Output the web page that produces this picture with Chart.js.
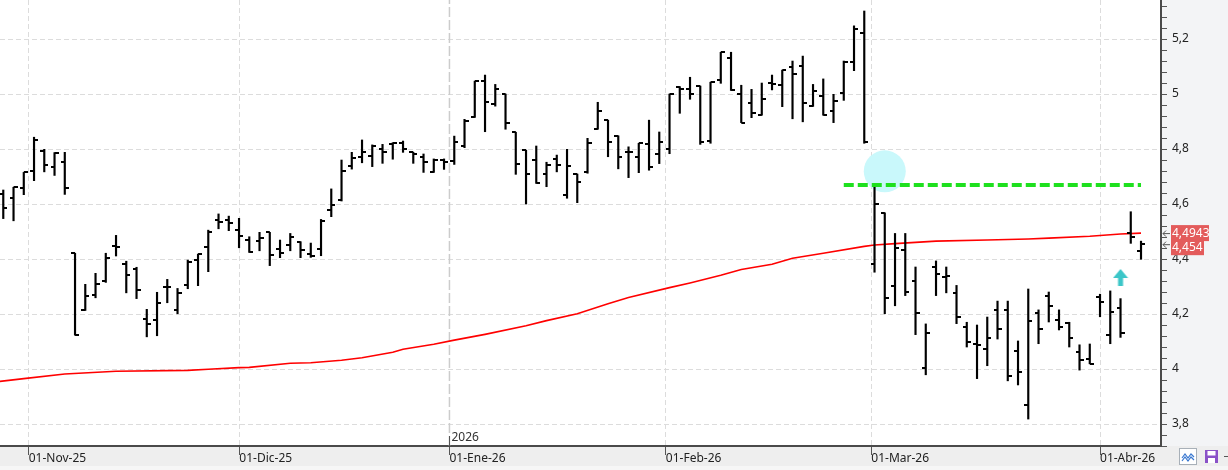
<!DOCTYPE html>
<html>
<head>
<meta charset="utf-8">
<script src="https://cdn.jsdelivr.net/npm/chart.js@4.4.1/dist/chart.umd.min.js"></script>
<style>
  html, body { margin: 0; padding: 0; background: #fff; }
  #wrap { position: relative; width: 1228px; height: 470px; }
</style>
</head>
<body>
<div id="wrap"><canvas id="chart" width="1228" height="470"></canvas></div>
<script>
// Daily bars, index 0 = first session on screen
const opens = [
  4.635, 4.621, 4.657, 4.719, 4.794, 4.733, 4.752, 4.421, 4.213, 4.268,
  4.321, 4.446, 4.381, 4.364, 4.182, 4.178, 4.298, 4.213, 4.304, 4.395,
  4.443, 4.541, 4.541, 4.505, 4.469, 4.465, 4.497, 4.436, 4.451, 4.463,
  4.418, 4.436, 4.578, 4.615, 4.738, 4.770, 4.775, 4.799, 4.818, 4.823,
  4.788, 4.772, 4.717, 4.760, 4.756, 4.812, 4.917, 5.047, 4.964, 5.000,
  4.861, 4.796, 4.760, 4.708, 4.763, 4.633, 4.709, 4.717, 4.872, 4.905,
  4.848, 4.789, 4.772, 4.817, 4.781, 4.799, 5.024, 5.017, 5.029, 4.830,
  5.051, 5.130, 4.999, 4.966, 4.923, 5.039, 5.032, 5.097, 5.101, 4.955,
  4.992, 4.937, 5.003, 5.115, 5.221, 4.382, 4.568, 4.302, 4.433, 4.319,
  4.003, 4.370, 4.335, 4.275, 4.152, 4.090, 4.073, 4.213, 4.213, 4.065,
  3.868, 4.203, 4.265, 4.177, 4.168, 4.062, 4.036, 4.261, 4.124, 4.221,
  4.493, 4.429
];
const highs = [
  4.651, 4.661, 4.715, 4.843, 4.799, 4.787, 4.788, 4.421, 4.308, 4.348,
  4.421, 4.486, 4.392, 4.370, 4.217, 4.279, 4.326, 4.293, 4.396, 4.418,
  4.505, 4.564, 4.556, 4.548, 4.481, 4.497, 4.497, 4.469, 4.493, 4.463,
  4.458, 4.544, 4.655, 4.760, 4.788, 4.833, 4.815, 4.817, 4.823, 4.829,
  4.788, 4.782, 4.764, 4.764, 4.847, 4.908, 5.047, 5.069, 5.035, 5.000,
  4.861, 4.796, 4.811, 4.752, 4.778, 4.799, 4.709, 4.839, 4.970, 4.905,
  4.848, 4.808, 4.821, 4.905, 4.862, 5.000, 5.027, 5.061, 5.029, 5.043,
  5.152, 5.152, 5.032, 5.017, 5.040, 5.069, 5.087, 5.120, 5.138, 5.035,
  5.055, 4.999, 5.120, 5.248, 5.302, 4.663, 4.568, 4.493, 4.493, 4.371,
  4.164, 4.393, 4.371, 4.304, 4.170, 4.160, 4.189, 4.247, 4.247, 4.102,
  4.291, 4.215, 4.280, 4.215, 4.170, 4.088, 4.091, 4.272, 4.284, 4.256,
  4.572, 4.465
];
const lows = [
  4.547, 4.539, 4.634, 4.685, 4.717, 4.704, 4.635, 4.123, 4.213, 4.259,
  4.315, 4.411, 4.277, 4.256, 4.117, 4.121, 4.241, 4.201, 4.292, 4.303,
  4.354, 4.510, 4.503, 4.441, 4.424, 4.430, 4.376, 4.405, 4.430, 4.405,
  4.406, 4.412, 4.554, 4.611, 4.727, 4.750, 4.736, 4.748, 4.763, 4.788,
  4.748, 4.715, 4.715, 4.726, 4.744, 4.805, 4.915, 4.863, 4.956, 4.872,
  4.708, 4.600, 4.675, 4.663, 4.717, 4.621, 4.605, 4.712, 4.872, 4.772,
  4.728, 4.696, 4.714, 4.723, 4.747, 4.783, 4.930, 4.981, 4.817, 4.821,
  5.039, 5.013, 4.896, 4.914, 4.923, 5.015, 4.954, 4.910, 4.899, 4.955,
  4.923, 4.896, 4.977, 5.085, 4.821, 4.352, 4.201, 4.230, 4.267, 4.125,
  3.979, 4.267, 4.277, 4.165, 4.080, 3.965, 4.012, 4.109, 3.957, 3.942,
  3.818, 4.092, 4.171, 4.142, 4.080, 3.996, 4.019, 4.190, 4.092, 4.115,
  4.457, 4.399
];
const closes = [
  4.584, 4.661, 4.715, 4.832, 4.742, 4.784, 4.657, 4.123, 4.265, 4.308,
  4.403, 4.443, 4.341, 4.287, 4.164, 4.239, 4.298, 4.275, 4.389, 4.418,
  4.497, 4.533, 4.530, 4.484, 4.427, 4.475, 4.415, 4.421, 4.481, 4.433,
  4.411, 4.538, 4.596, 4.721, 4.766, 4.788, 4.812, 4.788, 4.823, 4.799,
  4.782, 4.752, 4.760, 4.752, 4.824, 4.902, 5.047, 4.972, 5.017, 4.893,
  4.744, 4.708, 4.675, 4.742, 4.742, 4.738, 4.679, 4.821, 4.939, 4.824,
  4.772, 4.789, 4.821, 4.733, 4.825, 5.000, 5.017, 4.999, 4.827, 5.043,
  5.152, 5.013, 4.896, 4.930, 4.981, 5.036, 5.087, 5.073, 4.966, 5.011,
  4.923, 4.975, 5.115, 5.235, 4.827, 4.600, 4.257, 4.439, 4.279, 4.203,
  4.130, 4.344, 4.339, 4.188, 4.098, 4.086, 4.112, 4.145, 3.975, 3.988,
  4.173, 4.144, 4.229, 4.153, 4.112, 4.032, 4.020, 4.245, 4.208, 4.130,
  4.481, 4.454
];

// moving average, read at some bar indices
const maIndex = [-1, 2, 6, 11, 18, 20, 23, 24, 28, 30, 33, 35, 38, 39, 42, 44, 47, 51, 53, 56,
  59, 61, 65, 67, 70, 72, 75, 77, 80, 84, 85, 87, 91, 96, 100, 102, 106, 109, 111];
const maValues = [3.952, 3.965, 3.982, 3.992, 3.995, 3.999, 4.005, 4.006, 4.021, 4.023,
  4.032, 4.041, 4.061, 4.072, 4.090, 4.105, 4.126, 4.157, 4.176, 4.201,
  4.237, 4.260, 4.296, 4.313, 4.341, 4.362, 4.381, 4.403, 4.421, 4.446,
  4.451, 4.456, 4.465, 4.469, 4.473, 4.476, 4.483, 4.491, 4.4943];

// time axis: where each month starts (in bar units) and its label
const monthPos = [2.48, 23.03, 43.53, 64.64, 84.69, 107.0];
const monthLabels = ['01-Nov-25', '01-Dic-25', '01-Ene-26', '01-Feb-26', '01-Mar-26', '01-Abr-26'];
const yearPos = 43.53;
const yearLabel = '2026';

// drawn studies
const resistanceLevel = 4.669;
const resistanceFrom = 82;
const resistanceTo = 111;
const circleAt = { x: 86, y: 4.719 };
const arrowAt = { x: 109, y: 4.331 };

const Y_MIN = 3.72, Y_MAX = 5.342;
const X_MIN = -0.32, X_MAX = 112.95;

Chart.defaults.font.family = '"Noto Sans", "Open Sans", sans-serif';
Chart.defaults.font.size = 12;

function tickImage(side) {
  const c = document.createElement('canvas');
  c.width = 8; c.height = 2;
  const g = c.getContext('2d');
  g.fillStyle = '#000';
  if (side === 'left') g.fillRect(0, 0, 4, 2);
  else g.fillRect(4, 0, 4, 2);
  return c;
}

function arrowImage() {
  const c = document.createElement('canvas');
  c.width = 16; c.height = 18;
  const g = c.getContext('2d');
  g.fillStyle = '#3cc6c8';
  g.beginPath();
  g.moveTo(8, 0); g.lineTo(15.5, 9); g.lineTo(0.5, 9);
  g.closePath(); g.fill();
  g.fillRect(5.5, 9, 5, 8);
  return c;
}

function isMajor(v) {
  return Math.abs(v * 5 - Math.round(v * 5)) < 1e-6;
}

const barData = highs.map((h, i) => ({ x: i, y: [lows[i], h] }));
const openData = opens.map((v, i) => ({ x: i, y: v }));
const closeData = closes.map((v, i) => ({ x: i, y: v }));
const maData = maIndex.map((x, i) => ({ x: x, y: maValues[i] }));

const framePlugin = {
  id: 'frame',
  beforeDraw(chart) {
    const { ctx, chartArea: a, width, height } = chart;
    ctx.save();
    ctx.fillStyle = '#ffffff';
    ctx.fillRect(0, 0, width, height);
    ctx.fillStyle = '#f3f4f6';
    ctx.fillRect(a.right, 0, width - a.right, a.bottom);
    ctx.fillStyle = '#eeeeee';
    ctx.fillRect(0, a.bottom, width, 20);
    ctx.fillStyle = '#f6f6f6';
    ctx.fillRect(0, a.bottom + 20, width, height - a.bottom - 20);
    ctx.restore();
  },
  afterDraw(chart) {
    const { ctx, chartArea: a } = chart;
    const xs = chart.scales.x, ys = chart.scales.y;
    ctx.save();

    // year mark above the axis
    const yx = Math.round(xs.getPixelForValue(yearPos)) + 0.5;
    ctx.strokeStyle = '#555';
    ctx.lineWidth = 1;
    ctx.beginPath();
    ctx.moveTo(yx, a.bottom - 10);
    ctx.lineTo(yx, a.bottom);
    ctx.stroke();
    ctx.fillStyle = '#333';
    ctx.font = '12px "Noto Sans", sans-serif';
    ctx.textBaseline = 'middle';
    ctx.textAlign = 'left';
    ctx.fillText(yearLabel, yx + 2, a.bottom - 8);

    // last value boxes on the price axis
    const boxes = [
      { v: maValues[maValues.length - 1], text: '4,4943', w: 38, dy: 0 },
      { v: closes[closes.length - 1], text: String(closes[closes.length - 1]).replace('.', ','), w: 33, dy: 3 }
    ];
    boxes.forEach(b => {
      const py = ys.getPixelForValue(b.v);
      ctx.strokeStyle = '#555';
      ctx.beginPath();
      ctx.moveTo(a.right + 2, py + 0.5); ctx.lineTo(a.right + 9, py + 0.5);
      ctx.moveTo(a.right + 2, py + 0.5); ctx.lineTo(a.right + 5, py - 2.5);
      ctx.moveTo(a.right + 2, py + 0.5); ctx.lineTo(a.right + 5, py + 3.5);
      ctx.stroke();
      ctx.fillStyle = '#e35b5b';
      ctx.fillRect(a.right + 10, py + b.dy - 8, b.w, 16);
      ctx.fillStyle = '#ffffff';
      ctx.fillText(b.text, a.right + 11, py + b.dy);
    });

    // small toolbar buttons in the corner
    ctx.fillStyle = '#ffffff';
    ctx.strokeStyle = '#a8b0b8';
    ctx.fillRect(1179.5, 448.5, 17, 16);
    ctx.strokeRect(1179.5, 448.5, 17, 16);
    ctx.strokeStyle = '#3a78d0';
    ctx.lineWidth = 1.2;
    ctx.beginPath();
    ctx.moveTo(1182, 458); ctx.lineTo(1185, 454); ctx.lineTo(1188, 458); ctx.lineTo(1191, 454); ctx.lineTo(1194, 457);
    ctx.moveTo(1182, 461); ctx.lineTo(1185, 457); ctx.lineTo(1188, 461); ctx.lineTo(1191, 457); ctx.lineTo(1194, 460);
    ctx.stroke();
    ctx.fillStyle = '#8a52c8';
    ctx.fillRect(1205, 450, 13, 13);
    ctx.fillStyle = '#ffffff';
    ctx.fillRect(1207.5, 451, 8, 4.5);
    ctx.fillRect(1208, 458, 7, 5);
    ctx.fillStyle = '#555';
    ctx.fillRect(1224, 456, 4, 1);
    ctx.restore();
  }
};

new Chart(document.getElementById('chart'), {
  type: 'bar',
  data: {
    datasets: [
      {
        type: 'line', data: [{ x: yearPos, y: Y_MIN }, { x: yearPos, y: Y_MAX }],
        borderColor: '#cccccc', borderWidth: 1.5, borderDash: [10, 3], pointRadius: 0, order: 9
      },
      {
        type: 'line', data: [circleAt], showLine: false, pointRadius: 21,
        pointBackgroundColor: '#c9f8fb', pointBorderWidth: 0, order: 8
      },
      {
        type: 'line', data: maData, borderColor: '#ff0000', borderWidth: 1.6,
        pointRadius: 0, tension: 0, order: 7
      },
      {
        type: 'bar', data: barData, backgroundColor: '#000000', borderWidth: 0,
        barThickness: 1.5, order: 6
      },
      {
        type: 'line', data: openData, showLine: false, pointStyle: tickImage('left'),
        pointRadius: 3, order: 5
      },
      {
        type: 'line', data: closeData, showLine: false, pointStyle: tickImage('right'),
        pointRadius: 3, order: 5
      },
      {
        type: 'line', data: [{ x: resistanceFrom, y: resistanceLevel }, { x: resistanceTo, y: resistanceLevel }],
        borderColor: '#1ee01e', borderWidth: 4, borderDash: [10, 4], pointRadius: 0, order: 3
      },
      {
        type: 'line', data: [arrowAt], showLine: false, pointStyle: arrowImage(),
        pointRadius: 3, order: 2
      }
    ]
  },
  options: {
    responsive: false,
    animation: false,
    layout: { padding: 0, autoPadding: false },
    plugins: { legend: { display: false }, tooltip: { enabled: false } },
    scales: {
      x: {
        type: 'linear',
        min: X_MIN,
        max: X_MAX,
        offset: false,
        afterBuildTicks: s => { s.ticks = monthPos.map(v => ({ value: v })); },
        afterFit: s => { s.height = 24; s.paddingLeft = 0; s.paddingRight = 0; },
        ticks: {
          autoSkip: false, maxRotation: 0, align: 'start', padding: -4, color: '#222',
          callback: (v, i) => monthLabels[i]
        },
        grid: {
          offset: false,
          color: c => (c.tick && Math.abs(c.tick.value - yearPos) < 1e-6) ? 'rgba(0,0,0,0)' : '#dcdcdc',
          tickColor: '#555', tickLength: 9, tickBorderDash: [], lineWidth: 1
        },
        border: { display: true, color: '#4a4a4a', width: 2, dash: [5, 3] }
      },
      y: {
        type: 'linear',
        position: 'right',
        min: Y_MIN,
        max: Y_MAX,
        afterFit: s => { s.width = 67; s.paddingTop = 0; s.paddingBottom = 0; },
        ticks: {
          stepSize: 0.04, includeBounds: false, autoSkip: false, padding: 5, color: '#222',
          callback: v => isMajor(v) ? String(Math.round(v * 5) / 5).replace('.', ',') : ''
        },
        grid: {
          color: c => (c.tick && isMajor(c.tick.value)) ? '#dcdcdc' : 'rgba(0,0,0,0)',
          tickColor: '#555', tickLength: 6, tickBorderDash: [], lineWidth: 1
        },
        border: { display: true, color: '#4a4a4a', width: 2, dash: [5, 3] }
      }
    }
  },
  plugins: [framePlugin]
});
</script>
</body>
</html>
